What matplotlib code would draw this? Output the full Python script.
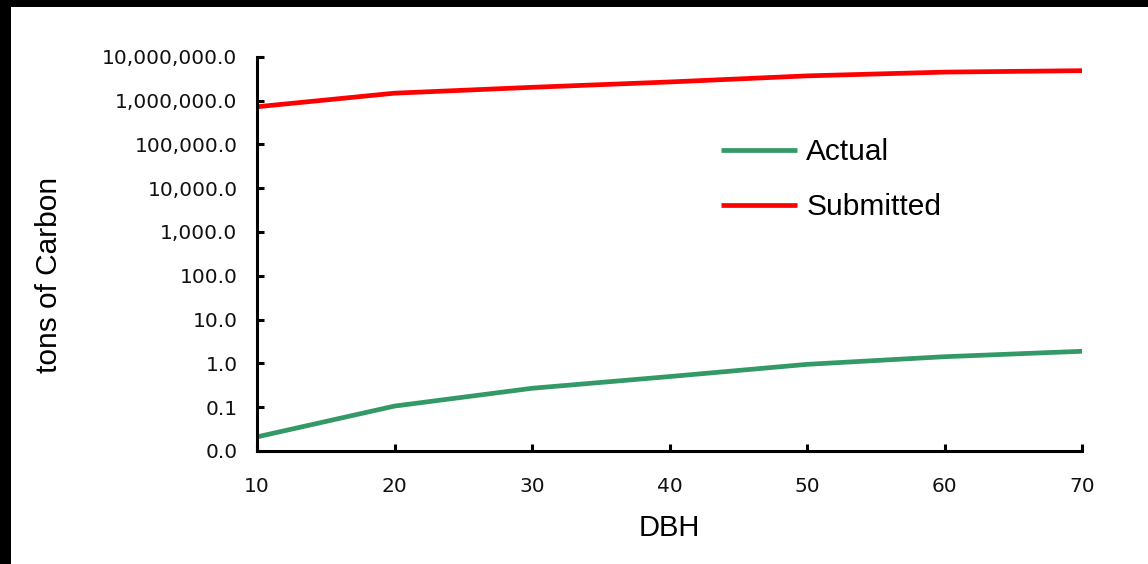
import matplotlib
matplotlib.use("Agg")
import matplotlib.pyplot as plt
from matplotlib.ticker import FixedLocator, FuncFormatter, NullLocator
from matplotlib.patches import Rectangle

# ---- data ----
dbh = [10, 20, 30, 40, 50, 60, 70]
actual = [0.021, 0.106, 0.27, 0.50, 0.95, 1.42, 1.89]
submitted = [7.2e5, 1.47e6, 2.0e6, 2.65e6, 3.65e6, 4.45e6, 4.8e6]
y_ticks = [0.01, 0.1, 1, 10, 100, 1000, 1e4, 1e5, 1e6, 1e7]
x_ticks = [10, 20, 30, 40, 50, 60, 70]
series_labels = ["Actual", "Submitted"]

W, H = 1148, 564
fig = plt.figure(figsize=(W / 100, H / 100), dpi=100)
fig.patch.set_facecolor("white")

# black frame strips (left and top)
fig.patches.append(Rectangle((0, 0), 11 / W, 1, transform=fig.transFigure,
                             facecolor="black", edgecolor="none", zorder=0))
fig.patches.append(Rectangle((0, 1 - 7 / H), 1, 7 / H, transform=fig.transFigure,
                             facecolor="black", edgecolor="none", zorder=0))

left, right, bottom, top = 257, 1082, 451, 56.7
ax = fig.add_axes([left / W, 1 - bottom / H, (right - left) / W, (bottom - top) / H])

ax.plot(dbh, actual, color="#339966", lw=3.4, label=series_labels[0], solid_capstyle="butt")
ax.plot(dbh, submitted, color="#FF0000", lw=3.4, label=series_labels[1], solid_capstyle="butt")

ax.set_yscale("log")
ax.set_ylim(0.01, 1e7)
ax.set_xlim(10, 70)
ax.yaxis.set_major_locator(FixedLocator(y_ticks))
ax.yaxis.set_minor_locator(NullLocator())
ax.yaxis.set_major_formatter(FuncFormatter(lambda v, p: f"{v:,.1f}"))
ax.xaxis.set_major_locator(FixedLocator(x_ticks))
ax.xaxis.set_major_formatter(FuncFormatter(lambda v, p: f"{int(v)}"))

for s in ["top", "right"]:
    ax.spines[s].set_visible(False)
for s in ["left", "bottom"]:
    ax.spines[s].set_linewidth(2.2)
    ax.spines[s].set_color("black")

ax.tick_params(axis="both", direction="in", length=5, width=2.2, colors="black")
ax.tick_params(axis="y", pad=14)
ax.tick_params(axis="x", pad=19)
for lab in ax.get_yticklabels() + ax.get_xticklabels():
    lab.set_fontfamily("DejaVu Sans")
    lab.set_fontsize(14.5)
    lab.set_color("#111111")

ax.set_xlabel("DBH", fontsize=21, family="Liberation Sans", labelpad=13)
ax.set_ylabel("tons of Carbon", fontsize=21.5, family="Liberation Sans")
ax.yaxis.set_label_coords((63 - left) / (right - left), 1 - (275 - top) / (bottom - top))

leg = ax.legend(loc="upper left", bbox_to_anchor=(721 / W, 1 - 138 / H),
                bbox_transform=fig.transFigure, frameon=False,
                prop={"family": "Liberation Sans", "size": 21.5},
                handlelength=2.55, handletextpad=0.3, labelspacing=0.92,
                borderaxespad=0, borderpad=0)

fig.savefig("out.png", dpi=100)
